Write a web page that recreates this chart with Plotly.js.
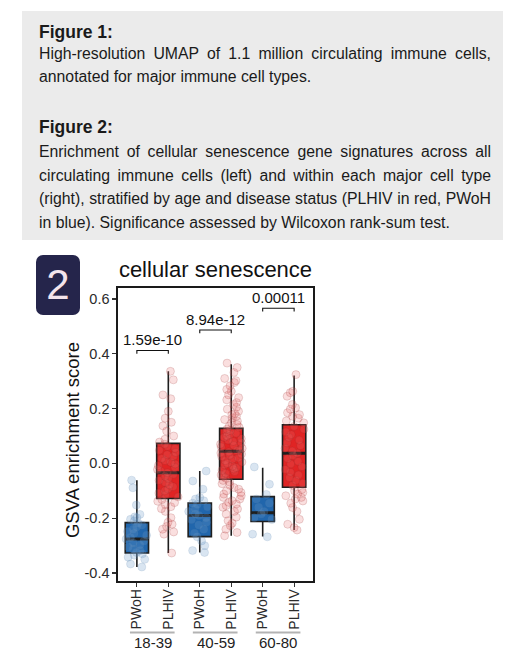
<!DOCTYPE html>
<html>
<head>
<meta charset="utf-8">
<script src="https://cdn.plot.ly/plotly-3.0.1.min.js"></script>
<style>
  html, body { margin: 0; padding: 0; background: #ffffff; }
  #chart { position: absolute; left: 0; top: 0; width: 523px; height: 652px; }
  #cap { position: absolute; left: 22px; top: 11px; width: 481px; height: 229px; background: #ebebeb; }
  .ln { position: absolute; left: 17px; width: 452px; white-space: nowrap;
        font-family: 'Liberation Sans', Arial, sans-serif; font-size: 15.8px;
        color: #1a1a1a; line-height: 20px; }
  .j { text-align: justify; text-align-last: justify; }
  .h { font-weight: bold; font-size: 17.5px; }
  #badge { position: absolute; left: 36px; top: 255px; width: 44px; height: 60px;
           background: #25254b; border-radius: 7px; color: #f3e4ec;
           font-family: 'Liberation Sans', Arial, sans-serif; font-size: 42px;
           line-height: 60px; text-align: center; }
</style>
</head>
<body>
<div id="chart"></div>
<div id="cap">
  <div class="ln h" style="top:11px">Figure 1:</div>
  <div class="ln j" style="top:33px">High-resolution UMAP of 1.1 million circulating immune cells,</div>
  <div class="ln" style="top:56px">annotated for major immune cell types.</div>
  <div class="ln h" style="top:106px">Figure 2:</div>
  <div class="ln j" style="top:131px">Enrichment of cellular senescence gene signatures across all</div>
  <div class="ln j" style="top:154.5px">circulating immune cells (left) and within each major cell type</div>
  <div class="ln j" style="top:178px">(right), stratified by age and disease status (PLHIV in red, PWoH</div>
  <div class="ln" style="top:201.5px">in blue). Significance assessed by Wilcoxon rank-sum test.</div>
</div>
<div id="badge">2</div>
<script>
// ---- data ----
const ageGroups = ['18-39', '40-59', '60-80'];
const tickLabels = ['PWoH', 'PLHIV', 'PWoH', 'PLHIV', 'PWoH', 'PLHIV'];

// box statistics per category (order of tickLabels)
const q1 = [-0.327, -0.128, -0.267, -0.058, -0.212, -0.087];
const median = [-0.276, -0.034, -0.190, 0.044, -0.180, 0.037];
const q3 = [-0.216, 0.073, -0.145, 0.128, -0.121, 0.141];
const lowerWhisker = [-0.378, -0.327, -0.325, -0.264, -0.267, -0.243];
const upperWhisker = [-0.061, 0.336, -0.028, 0.362, -0.016, 0.321];

// individual scores (estimated)
const pwoh_18_39 = [-0.061, -0.089, -0.152, -0.186, -0.195, -0.198, -0.204, -0.21, -0.218, -0.225,
  -0.232, -0.24, -0.248, -0.255, -0.262, -0.27, -0.276, -0.283, -0.29, -0.298, -0.305, -0.312,
  -0.318, -0.325, -0.33, -0.335, -0.342, -0.35, -0.367, -0.378];
const plhiv_18_39 = [0.336, 0.305, 0.25, 0.236, 0.19, 0.165, 0.15, 0.137, 0.118, 0.1, 0.088, 0.078,
  0.07, 0.062, 0.055, 0.048, 0.04, 0.032, 0.025, 0.018, 0.01, 0.004, -0.002, -0.008, -0.015, -0.022,
  -0.028, -0.034, -0.04, -0.047, -0.055, -0.062, -0.07, -0.078, -0.085, -0.093, -0.1, -0.108,
  -0.115, -0.122, -0.132, -0.138, -0.143, -0.15, -0.158, -0.165, -0.175, -0.198, -0.215, -0.222,
  -0.23, -0.24, -0.25, -0.258, -0.327];
const pwoh_40_59 = [-0.028, -0.064, -0.094, -0.124, -0.13, -0.136, -0.145, -0.15, -0.158, -0.165,
  -0.175, -0.185, -0.19, -0.198, -0.205, -0.215, -0.225, -0.24, -0.255, -0.268, -0.283, -0.3,
  -0.318, -0.325];
const plhiv_40_59 = [0.366, 0.35, 0.332, 0.31, 0.302, 0.295, 0.283, 0.27, 0.263, 0.25, 0.24, 0.232,
  0.222, 0.215, 0.205, 0.198, 0.19, 0.182, 0.178, 0.172, 0.166, 0.16, 0.154, 0.148, 0.142, 0.136,
  0.132, 0.125, 0.12, 0.115, 0.11, 0.105, 0.1, 0.095, 0.09, 0.085, 0.08, 0.075, 0.07, 0.065, 0.06,
  0.055, 0.05, 0.046, 0.042, 0.038, 0.034, 0.03, 0.025, 0.02, 0.015, 0.01, 0.005, 0.0, -0.005,
  -0.01, -0.015, -0.02, -0.025, -0.03, -0.036, -0.042, -0.048, -0.054, -0.062, -0.068, -0.074,
  -0.08, -0.088, -0.094, -0.1, -0.106, -0.112, -0.118, -0.124, -0.13, -0.136, -0.142, -0.148,
  -0.154, -0.16, -0.166, -0.175, -0.185, -0.196, -0.209, -0.218, -0.227, -0.24, -0.252, -0.264];
const pwoh_60_80 = [-0.013, -0.076, -0.113, -0.13, -0.145, -0.16, -0.175, -0.185, -0.198, -0.205,
  -0.258, -0.268];
const plhiv_60_80 = [0.324, 0.263, 0.258, 0.245, 0.215, 0.203, 0.198, 0.185, 0.178, 0.172, 0.165,
  0.155, 0.148, 0.135, 0.125, 0.115, 0.105, 0.095, 0.085, 0.075, 0.065, 0.055, 0.045, 0.037, 0.028,
  0.018, 0.008, -0.002, -0.012, -0.022, -0.032, -0.042, -0.052, -0.062, -0.072, -0.08, -0.095,
  -0.1, -0.106, -0.112, -0.118, -0.124, -0.13, -0.137, -0.145, -0.161, -0.175, -0.204, -0.222,
  -0.234, -0.243];

// Wilcoxon p-values and bracket heights
const pValues = ['1.59e-10', '8.94e-12', '0.00011'];
const bracketY = [0.412, 0.487, 0.566];

// ---- styles ----
const BLUE = '#2166ac', RED = '#e02424', INK = '#1e1e1e';
const FONT = "'Liberation Sans', Arial, sans-serif";
const BOXW = 0.74;

const idx = tickLabels.map((_, i) => i);
const blueIdx = idx.filter(i => tickLabels[i] === 'PWoH');
const redIdx = idx.filter(i => tickLabels[i] === 'PLHIV');
const pick = (arr, ids) => ids.map(i => arr[i]);

function statBox(ids, fill) {
  return {
    type: 'box', orientation: 'v', x: ids,
    q1: pick(q1, ids), median: pick(median, ids), q3: pick(q3, ids),
    lowerfence: pick(lowerWhisker, ids), upperfence: pick(upperWhisker, ids),
    width: BOXW, whiskerwidth: 0, fillcolor: fill,
    line: { color: INK, width: 1.6 }, boxpoints: false, hoverinfo: 'skip'
  };
}
const medianBox = {
  type: 'box', orientation: 'v', x: idx,
  q1: median, median: median, q3: median, lowerfence: median, upperfence: median,
  width: BOXW, whiskerwidth: 0, fillcolor: 'rgba(0,0,0,0)',
  line: { color: INK, width: 3 }, boxpoints: false, hoverinfo: 'skip'
};

function pointsBox(seriesList, ids, fill, edge) {
  const xs = [], ys = [];
  seriesList.forEach((s, k) => s.forEach(v => { xs.push(ids[k]); ys.push(v); }));
  return {
    type: 'box', orientation: 'v', x: xs, y: ys,
    boxpoints: 'all', jitter: 1, pointpos: 0, width: BOXW,
    fillcolor: 'rgba(0,0,0,0)', line: { color: 'rgba(0,0,0,0)', width: 0 },
    marker: { size: 8, color: fill, line: { color: edge, width: 0.8 } },
    hoveron: 'points'
  };
}

const traces = [
  statBox(blueIdx, BLUE),
  statBox(redIdx, RED),
  medianBox,
  pointsBox([pwoh_18_39, pwoh_40_59, pwoh_60_80], blueIdx, 'rgba(110,155,200,0.26)', 'rgba(80,120,165,0.18)'),
  pointsBox([plhiv_18_39, plhiv_40_59, plhiv_60_80], redIdx, 'rgba(232,110,110,0.22)', 'rgba(140,30,30,0.22)')
];

const shapes = [];
const annotations = [];
pValues.forEach((p, g) => {
  const a = blueIdx[g], b = redIdx[g], y = bracketY[g], tip = 0.012;
  shapes.push({
    type: 'path', xref: 'x', yref: 'y',
    path: `M ${a},${y - tip} L ${a},${y} L ${b},${y} L ${b},${y - tip}`,
    line: { color: '#111', width: 1.1 }
  });
  annotations.push({
    xref: 'x', yref: 'y', x: (a + b) / 2, y: y, yanchor: 'bottom', yshift: 0,
    text: p, showarrow: false, font: { family: FONT, size: 15, color: '#111' }
  });
});
ageGroups.forEach((ag, g) => {
  const a = blueIdx[g], b = redIdx[g];
  shapes.push({
    type: 'line', xref: 'x', yref: 'paper',
    x0: a - 0.22, x1: b + 0.2, y0: -0.176, y1: -0.176,
    line: { color: '#b3b3b3', width: 2 }
  });
  annotations.push({
    xref: 'x', yref: 'paper', x: (a + b) / 2, y: -0.21, yanchor: 'middle',
    text: ag, showarrow: false, font: { family: FONT, size: 15, color: '#222' }
  });
});
annotations.push({
  xref: 'paper', yref: 'paper', x: -0.236, y: 0.481, xanchor: 'center', yanchor: 'middle',
  text: 'GSVA enrichment score', textangle: -90, showarrow: false,
  font: { family: FONT, size: 18.5, color: '#111' }
});

const yTicks = [-0.4, -0.2, 0.0, 0.2, 0.4, 0.6];

const layout = {
  width: 523, height: 652,
  margin: { l: 118, r: 210, t: 288, b: 71, pad: 0 },
  paper_bgcolor: 'rgba(0,0,0,0)', plot_bgcolor: '#ffffff',
  showlegend: false, boxmode: 'overlay',
  font: { family: FONT, color: '#222' },
  title: {
    text: 'cellular senescence', font: { family: FONT, size: 22, color: '#111' },
    xref: 'paper', x: 0.5, xanchor: 'center', yref: 'container', y: 1 - 269 / 652, yanchor: 'middle'
  },
  xaxis: {
    range: [-0.6, 5.6], tickmode: 'array', tickvals: idx, ticktext: tickLabels,
    tickangle: -90, ticks: 'outside', ticklen: 4, tickwidth: 1.2, tickcolor: '#333',
    ticklabelstandoff: -3,
    tickfont: { family: FONT, size: 14, color: '#2b2b2b' },
    showline: true, mirror: true, linecolor: '#1a1a1a', linewidth: 1.6,
    showgrid: false, zeroline: false, fixedrange: true
  },
  yaxis: {
    range: [-0.429, 0.640], tickmode: 'array', tickvals: yTicks,
    ticktext: yTicks.map(v => v.toFixed(1)),
    ticks: 'outside', ticklen: 4, tickwidth: 1.2, tickcolor: '#333',
    tickfont: { family: FONT, size: 14.5, color: '#2b2b2b' },
    showline: true, mirror: true, linecolor: '#1a1a1a', linewidth: 1.6,
    showgrid: false, zeroline: false, fixedrange: true
  },
  shapes: shapes,
  annotations: annotations
};

Plotly.newPlot('chart', traces, layout, { staticPlot: true, displayModeBar: false });
</script>
</body>
</html>
